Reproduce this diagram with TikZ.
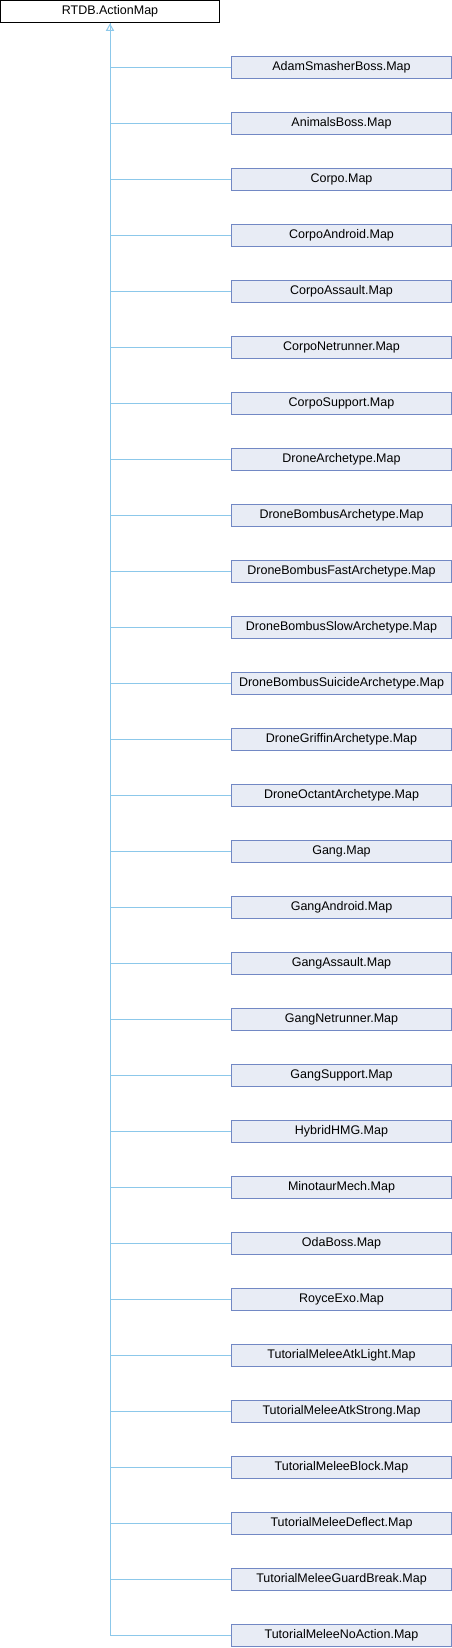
\documentclass[tikz,border=0pt]{standalone}
\usepackage{fontspec}
\setmainfont{Liberation Sans}
\usepackage{xcolor}
\usepackage{tikz}
\usetikzlibrary{arrows}
\usetikzlibrary{positioning}

\definecolor{boxfill}{HTML}{E8ECF5}
\definecolor{boxline}{HTML}{7288C4}
\definecolor{edgeline}{HTML}{8CC8EA}

\tikzset{
  base/.style = {rectangle, draw=black, fill=white, line width=1pt, minimum width=219pt, minimum height=22.5pt, inner sep=0pt},
  derived/.style = {rectangle, draw=boxline, fill=boxfill, line width=1pt, minimum width=219.5pt, minimum height=22pt, inner sep=0pt},
  edge/.style = {draw=edgeline, line width=1pt}
}

\begin{document}
\begin{tikzpicture}[x=1pt, y=1pt, font=\fontsize{12.5}{14}\selectfont]
\useasboundingbox (0, 0) rectangle (452, -1648);
% base class
\node [base] (AM) at (110, -11.75) {RTDB.ActionMap};
% derived classes
\node [derived] (ASB) at (341.5, -67.7) {AdamSmasherBoss.Map};
\node [derived] (AB) at (341.5, -123.7) {AnimalsBoss.Map};
\node [derived] (C) at (341.5, -179.7) {Corpo.Map};
\node [derived] (CA) at (341.5, -235.7) {CorpoAndroid.Map};
\node [derived] (CAs) at (341.5, -291.7) {CorpoAssault.Map};
\node [derived] (CN) at (341.5, -347.7) {CorpoNetrunner.Map};
\node [derived] (CS) at (341.5, -403.7) {CorpoSupport.Map};
\node [derived] (DA) at (341.5, -459.7) {DroneArchetype.Map};
\node [derived] (DBA) at (341.5, -515.7) {DroneBombusArchetype.Map};
\node [derived] (DBF) at (341.5, -571.7) {DroneBombusFastArchetype.Map};
\node [derived] (DBS) at (341.5, -627.7) {DroneBombusSlowArchetype.Map};
\node [derived] (DBSu) at (341.5, -683.7) {DroneBombusSuicideArchetype.Map};
\node [derived] (DG) at (341.5, -739.7) {DroneGriffinArchetype.Map};
\node [derived] (DO) at (341.5, -795.7) {DroneOctantArchetype.Map};
\node [derived] (G) at (341.5, -851.7) {Gang.Map};
\node [derived] (GA) at (341.5, -907.7) {GangAndroid.Map};
\node [derived] (GAs) at (341.5, -963.7) {GangAssault.Map};
\node [derived] (GN) at (341.5, -1019.7) {GangNetrunner.Map};
\node [derived] (GS) at (341.5, -1075.7) {GangSupport.Map};
\node [derived] (HH) at (341.5, -1131.7) {HybridHMG.Map};
\node [derived] (MM) at (341.5, -1187.7) {MinotaurMech.Map};
\node [derived] (OB) at (341.5, -1243.7) {OdaBoss.Map};
\node [derived] (RE) at (341.5, -1299.7) {RoyceExo.Map};
\node [derived] (TAL) at (341.5, -1355.7) {TutorialMeleeAtkLight.Map};
\node [derived] (TAS) at (341.5, -1411.7) {TutorialMeleeAtkStrong.Map};
\node [derived] (TB) at (341.5, -1467.7) {TutorialMeleeBlock.Map};
\node [derived] (TD) at (341.5, -1523.7) {TutorialMeleeDeflect.Map};
\node [derived] (TG) at (341.5, -1579.7) {TutorialMeleeGuardBreak.Map};
\node [derived] (TN) at (341.5, -1635.7) {TutorialMeleeNoAction.Map};
% inheritance
\draw [edge] (ASB.west) -| (AM.south);
\draw [edge] (AB.west) -| (AM.south);
\draw [edge] (C.west) -| (AM.south);
\draw [edge] (CA.west) -| (AM.south);
\draw [edge] (CAs.west) -| (AM.south);
\draw [edge] (CN.west) -| (AM.south);
\draw [edge] (CS.west) -| (AM.south);
\draw [edge] (DA.west) -| (AM.south);
\draw [edge] (DBA.west) -| (AM.south);
\draw [edge] (DBF.west) -| (AM.south);
\draw [edge] (DBS.west) -| (AM.south);
\draw [edge] (DBSu.west) -| (AM.south);
\draw [edge] (DG.west) -| (AM.south);
\draw [edge] (DO.west) -| (AM.south);
\draw [edge] (G.west) -| (AM.south);
\draw [edge] (GA.west) -| (AM.south);
\draw [edge] (GAs.west) -| (AM.south);
\draw [edge] (GN.west) -| (AM.south);
\draw [edge] (GS.west) -| (AM.south);
\draw [edge] (HH.west) -| (AM.south);
\draw [edge] (MM.west) -| (AM.south);
\draw [edge] (OB.west) -| (AM.south);
\draw [edge] (RE.west) -| (AM.south);
\draw [edge] (TAL.west) -| (AM.south);
\draw [edge] (TAS.west) -| (AM.south);
\draw [edge] (TB.west) -| (AM.south);
\draw [edge] (TD.west) -| (AM.south);
\draw [edge] (TG.west) -| (AM.south);
\draw [edge, -open triangle 60] (TN.west) -| (AM.south);
\end{tikzpicture}
\end{document}
